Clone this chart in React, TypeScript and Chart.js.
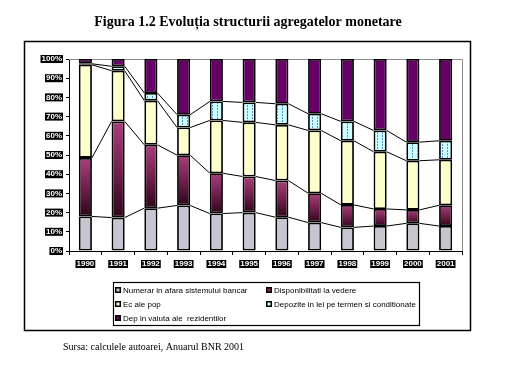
import React, { useEffect, useRef } from "react";
import { Chart, registerables } from "chart.js";

Chart.register(...registerables);

const years = ["1990", "1991", "1992", "1993", "1994", "1995", "1996", "1997", "1998", "1999", "2000", "2001"];
const numerar = [18, 17.4, 22.3, 23.7, 19.5, 20, 17.6, 14.8, 12.3, 13, 14.4, 13];
const disponibilitati = [30.5, 50.1, 33, 26.2, 21, 18.8, 19.1, 15.3, 11.7, 8.9, 7, 10.8];
const ecPop = [48.5, 26.4, 23, 14.4, 27.5, 28.2, 29, 32.7, 33.4, 29.8, 25.6, 23.7];
const depozite = [0.5, 2.3, 4, 6.7, 9.9, 10.4, 11, 8.7, 10.1, 11.1, 9.7, 9.9];
const depValuta = [2.5, 3.8, 17.7, 29, 22.1, 22.6, 23.3, 28.5, 32.5, 37.2, 43.3, 42.6];

const seriesNames = [
  "Numerar in afara sistemului bancar",
  "Disponibilitati la vedere",
  "Ec ale pop",
  "Depozite in lei pe termen si conditionate",
  "Dep in valuta ale  rezidentilor",
];
const yTicks = [0, 10, 20, 30, 40, 50, 60, 70, 80, 90, 100];

const title = "Figura 1.2 Evoluția structurii agregatelor monetare";
const source = "Sursa: calculele autoarei, Anuarul BNR 2001";

function makeCyanPattern(): CanvasPattern | string {
  const c = document.createElement("canvas");
  c.width = 5;
  c.height = 3;
  const g = c.getContext("2d");
  if (!g) return "#ccffff";
  g.fillStyle = "#ccffff";
  g.fillRect(0, 0, 5, 3);
  g.fillStyle = "#5a8fd0";
  g.fillRect(2, 0, 1, 2);
  const p = g.createPattern(c, "repeat");
  return p || "#ccffff";
}

const framePlugin = {
  id: "framePlugin",
  beforeDatasetsDraw(chart: any) {
    const { ctx, chartArea } = chart;
    ctx.save();
    ctx.strokeStyle = "#8c8c8c";
    ctx.lineWidth = 1;
    ctx.beginPath();
    ctx.moveTo(chartArea.left, Math.round(chartArea.top) + 0.5);
    ctx.lineTo(Math.round(chartArea.right) + 0.5, Math.round(chartArea.top) + 0.5);
    ctx.lineTo(Math.round(chartArea.right) + 0.5, chartArea.bottom);
    ctx.stroke();
    ctx.restore();
  },
  afterDatasetsDraw(chart: any) {
    const { ctx } = chart;
    ctx.save();
    ctx.strokeStyle = "#000";
    ctx.lineWidth = 1;
    for (let k = 0; k < 4; k++) {
      const meta = chart.getDatasetMeta(k);
      const els = meta.data;
      ctx.beginPath();
      for (let i = 0; i < els.length - 1; i++) {
        const a = els[i];
        const b = els[i + 1];
        ctx.moveTo(a.x + a.width / 2, a.y);
        ctx.lineTo(b.x - b.width / 2, b.y);
      }
      ctx.stroke();
    }
    ctx.restore();
  },
  afterDraw(chart: any) {
    const { ctx } = chart;
    ctx.save();
    // title
    ctx.fillStyle = "#000";
    ctx.font = 'bold 14px "Liberation Serif", serif';
    ctx.textAlign = "center";
    ctx.textBaseline = "alphabetic";
    ctx.fillText(title, 248, 26);
    // outer frame
    ctx.strokeStyle = "#000";
    ctx.lineWidth = 1.5;
    ctx.strokeRect(24.5, 41.5, 446, 289);
    // legend box
    ctx.lineWidth = 1.2;
    ctx.strokeRect(113.5, 282.5, 306, 43);
    const colors = ["#c6c6d0", "#8a2a60", "#ffffcc", "#ccffff", "#660066"];
    const pos = [
      [115, 290],
      [266, 290],
      [115, 304],
      [266, 304],
      [115, 318],
    ];
    ctx.font = '8px "Liberation Sans", Arial, sans-serif';
    ctx.textAlign = "left";
    ctx.textBaseline = "middle";
    seriesNames.forEach((name, i) => {
      const [x, y] = pos[i];
      ctx.fillStyle = "#000";
      ctx.fillRect(x, y - 3, 6, 6);
      ctx.fillStyle = colors[i];
      ctx.fillRect(x + 1.5, y - 1.5, 3, 3);
      ctx.fillStyle = "#000";
      ctx.fillText(name, x + 8, y + 0.5);
    });
    // source
    ctx.font = '10px "Liberation Serif", serif';
    ctx.textBaseline = "alphabetic";
    ctx.fillText(source, 63, 350);
    ctx.restore();
  },
};

export default function App() {
  const ref = useRef<HTMLCanvasElement>(null);
  useEffect(() => {
    if (!ref.current) return;
    const cyan = makeCyanPattern();
    const stacks = [numerar, disponibilitati, ecPop, depozite, depValuta];
    const maroonGradient = (c: any) => {
      const chart = c.chart;
      const y = chart.scales && chart.scales.y;
      const i = c.dataIndex;
      if (!y || i === undefined || !chart.chartArea) return "#80285a";
      const base = numerar[i];
      const top = base + disponibilitati[i];
      const y0 = y.getPixelForValue(base);
      const y1 = y.getPixelForValue(top);
      if (!isFinite(y0) || !isFinite(y1) || y0 === y1) return "#80285a";
      const g = chart.ctx.createLinearGradient(0, y1, 0, y0);
      g.addColorStop(0, "#a8407a");
      g.addColorStop(0.5, "#72204e");
      g.addColorStop(1, "#2c0618");
      return g;
    };
    const fills: any[] = ["#c6c6d0", maroonGradient, "#ffffcc", cyan, "#660066"];
    const chart = new Chart(ref.current, {
      type: "bar",
      data: {
        labels: years,
        datasets: stacks.map((d, k) => ({
          label: seriesNames[k],
          data: d,
          backgroundColor: fills[k],
          borderColor: "#000",
          borderWidth: 1.8,
          borderSkipped: false,
          barPercentage: 0.4,
          categoryPercentage: 1,
        })),
      },
      options: {
        responsive: false,
        animation: false,
        devicePixelRatio: 1,
        layout: { padding: { left: 24, right: 50, top: 59, bottom: 103 } },
        plugins: {
          legend: { display: false },
          title: { display: false },
          tooltip: { enabled: false },
        },
        scales: {
          x: {
            stacked: true,
            afterFit: (s: any) => {
              s.height = 30;
            },
            grid: {
              display: true,
              drawOnChartArea: false,
              drawTicks: true,
              tickLength: 4,
              color: "#000",
              offset: true,
            },
            border: { display: true, color: "#000", width: 1 },
            ticks: {
              color: "#fff",
              padding: 5,
              font: { family: '"Liberation Sans", Arial, sans-serif', size: 8, weight: "bold", lineHeight: 1 },
              showLabelBackdrop: true,
              backdropColor: "#000",
              backdropPadding: { left: 1, right: 1, top: 0, bottom: 0 },
              maxRotation: 0,
              autoSkip: false,
            },
          },
          y: {
            stacked: true,
            min: 0,
            max: 100,
            afterFit: (s: any) => {
              s.width = 45;
            },
            afterBuildTicks: (s: any) => {
              s.ticks = yTicks.map((v) => ({ value: v }));
            },
            grid: {
              display: true,
              drawOnChartArea: false,
              drawTicks: true,
              tickLength: 3,
              color: "#000",
            },
            border: { display: true, color: "#000", width: 1 },
            ticks: {
              color: "#fff",
              padding: 4,
              font: { family: '"Liberation Sans", Arial, sans-serif', size: 8, weight: "bold", lineHeight: 1 },
              showLabelBackdrop: true,
              backdropColor: "#000",
              backdropPadding: { left: 1, right: 1, top: 0, bottom: 0 },
              callback: (v: any) => v + "%",
            },
          },
        },
      },
      plugins: [framePlugin],
    });
    return () => chart.destroy();
  }, []);
  return (
    <div style={{ position: "fixed", left: 0, top: 0, width: 512, height: 384, background: "#fff" }}>
      <canvas ref={ref} width={512} height={384} />
    </div>
  );
}
